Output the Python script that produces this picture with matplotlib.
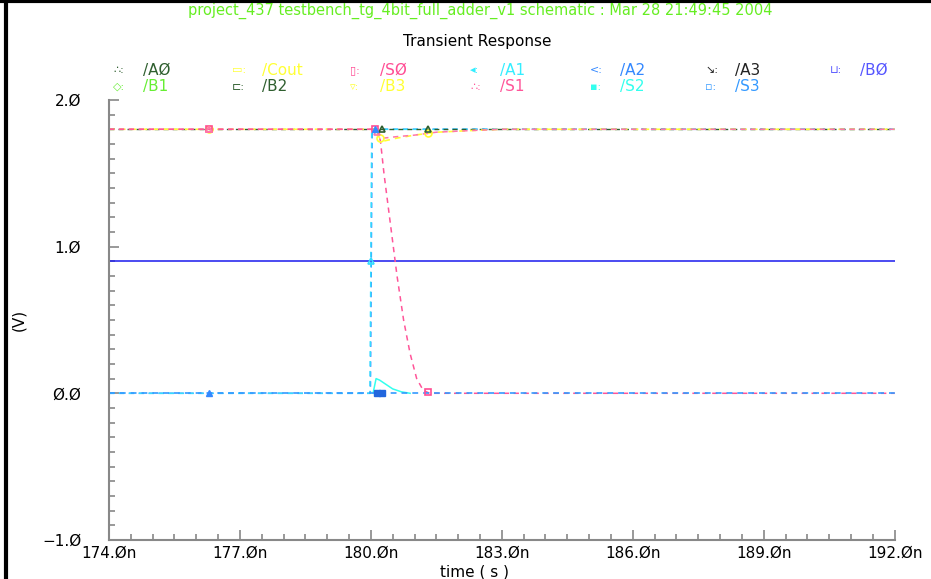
import matplotlib
matplotlib.use("Agg")
import matplotlib.pyplot as plt
import numpy as np
from matplotlib.lines import Line2D
from matplotlib.ticker import MultipleLocator

# datos de las señales (tiempo en ns, tensión en V)
t_flat = [174.0, 192.0]
b0 = [0.9, 0.9]
a0 = [1.8, 1.8]
s3 = [0.0, 0.0]

t_s1 = [174.0, 180.1, 180.2, 180.3, 180.6, 181.0, 181.5, 182.2, 183.0, 192.0]
s1 = [1.8, 1.8, 1.76, 1.74, 1.75, 1.76, 1.78, 1.79, 1.8, 1.8]

t_cout = [174.0, 180.1, 180.2, 180.3, 180.6, 181.0, 181.5, 182.2, 183.0, 192.0]
cout = [1.8, 1.8, 1.74, 1.72, 1.74, 1.76, 1.78, 1.79, 1.8, 1.8]

t_s0 = [174.0, 180.15, 180.22, 180.3, 180.45, 180.6, 180.75, 180.9, 181.05, 181.2, 181.35, 192.0]
s0 = [1.8, 1.8, 1.72, 1.5, 1.15, 0.8, 0.5, 0.27, 0.1, 0.02, 0.0, 0.0]

t_a1 = [174.0, 179.98, 180.02, 192.0]
a1 = [0.0, 0.0, 1.8, 1.8]

t_a2 = [174.0, 179.99, 180.03, 192.0]
a2 = [0.0, 0.0, 1.8, 1.8]

# S2: solo el tramo visible del rebote
t_s2 = [180.05, 180.12, 180.2, 180.35, 180.5, 180.7, 180.9]
s2 = [0.0, 0.1, 0.09, 0.06, 0.03, 0.01, 0.0]

# marcas de cada señal (tiempos)
mk_a0 = [180.25, 181.3]
mk_cout = [176.3, 180.2, 181.3]
mk_s0 = [176.3, 180.1, 181.3]
mk_s1 = [176.3, 180.15]
mk_a1 = [180.0]
mk_a2 = [176.3, 180.1]
mk_s3 = [180.15, 180.25]

# leyenda
leg_names = ["/AØ", "/Cout", "/SØ", "/A1", "/A2", "/A3", "/BØ",
             "/B1", "/B2", "/B3", "/S1", "/S2", "/S3"]
leg_colors = ["#2f5f2f", "#ffff33", "#ff4d94", "#33eeff", "#3388ff", "#222222", "#5555ff",
              "#66ee33", "#2f5f2f", "#ffff33", "#ff5599", "#33ffee", "#3399ff"]
leg_syms = ["∴", "▭", "▯", "◂", "<", "↘", "⊔",
            "◇", "⊏", "▿", "∴", "▪", "▫"]

fig = plt.figure(figsize=(9.31, 5.79), dpi=100, facecolor="white")
ax = fig.add_axes([0.117, 0.0674, 0.844, 0.76])

def marks(t, v, mt):
    return mt, np.interp(mt, t, v)

dash = (0, (3.5, 3))
ax.plot(t_a2, a2, color="#3388ff", lw=1.1, ls=dash)
ax.plot(t_a1, a1, color="#33ddff", lw=1.1, ls=dash)
ax.plot(t_s2, s2, color="#33ffee", lw=1.1)
ax.plot(t_flat, b0, color="#1a1aee", lw=1.1)
ax.plot(t_flat, a0, color="#2f5f2f", lw=1.0, ls=dash)
ax.plot(t_cout, cout, color="#ffff33", lw=1.2, ls=dash)
ax.plot(t_s1, s1, color="#ff77aa", lw=1.1, ls=dash)
ax.plot(t_s0, s0, color="#ff5599", lw=1.1, ls=dash)
ax.plot(t_flat, s3, color="#3399ff", lw=1.2, ls=dash)

mstyle = dict(ls="none", ms=5, mfc="none", mew=1.2)
ax.plot(*marks(t_cout, cout, mk_cout), marker="o", color="#ffff33", **mstyle)
ax.plot(*marks(t_s0, s0, mk_s0), marker="s", color="#ff4d94", **mstyle)
ax.plot(*marks(t_s1, s1, mk_s1), marker="^", color="#ff77aa", **mstyle)
ax.plot(*marks(t_flat, a0, mk_a0), marker="^", color="#2f5f2f", **mstyle)
ax.plot(*marks(t_a1, a1, mk_a1), marker="^", color="#33ddff", **mstyle)
ax.plot(*marks(t_a2, a2, mk_a2), marker="^", color="#3388ff", ls="none", ms=5)
ax.plot(*marks(t_flat, s3, mk_s3), marker="s", color="#2266dd", ls="none", ms=4)

ax.set_xlim(174, 192)
ax.set_ylim(-1, 2)
ax.set_xticks([174, 177, 180, 183, 186, 189, 192])
ax.set_xticklabels(["174.Øn", "177.Øn", "180.Øn", "183.Øn", "186.Øn", "189.Øn", "192.Øn"])
ax.set_yticks([-1, 0, 1, 2])
ax.set_yticklabels(["−1.Ø", "Ø.Ø", "1.Ø", "2.Ø"])
ax.xaxis.set_minor_locator(MultipleLocator(0.5))
ax.yaxis.set_minor_locator(MultipleLocator(0.1))
ax.tick_params(which="both", direction="in", color="#888888", width=1.2)
ax.tick_params(which="major", length=7, labelsize=11)
ax.tick_params(which="minor", length=4)
ax.tick_params(axis="y", pad=20)
ax.tick_params(axis="x", pad=4)
for s in ["top", "right"]:
    ax.spines[s].set_visible(False)
for s in ["left", "bottom"]:
    ax.spines[s].set_color("#888888")
    ax.spines[s].set_linewidth(1.5)

# títulos y etiquetas
fig.text(0.516, 0.982, "project_437 testbench_tg_4bit_full_adder_v1 schematic : Mar 28 21:49:45 2004",
         color="#66ee22", fontsize=10.5, ha="center", va="center")
fig.text(0.513, 0.928, "Transient Response", color="black", fontsize=11, ha="center", va="center")
fig.text(0.51, 0.012, "time ( s )", color="black", fontsize=11, ha="center", va="center")
fig.text(0.02, 0.447, "(V)", color="black", fontsize=11, rotation=90, ha="center", va="center")

col_x = [113, 232, 350, 470, 590, 705, 830]
for i, (name, c, sym) in enumerate(zip(leg_names, leg_colors, leg_syms)):
    row, col = divmod(i, 7)
    y = 1 - (70 + 17 * row) / 579
    fig.text(col_x[col] / 931, y, sym + ":", color=c, fontsize=8, va="center")
    fig.text((col_x[col] + 30) / 931, y, name, color=c, fontsize=11, va="center")

# borde de la ventana
fig.add_artist(Line2D([0.0065, 0.0065], [0, 1], color="black", lw=3, transform=fig.transFigure))
fig.add_artist(Line2D([0, 1], [0.998, 0.998], color="black", lw=3, transform=fig.transFigure))

fig.savefig("out.png", dpi=100, facecolor="white")
